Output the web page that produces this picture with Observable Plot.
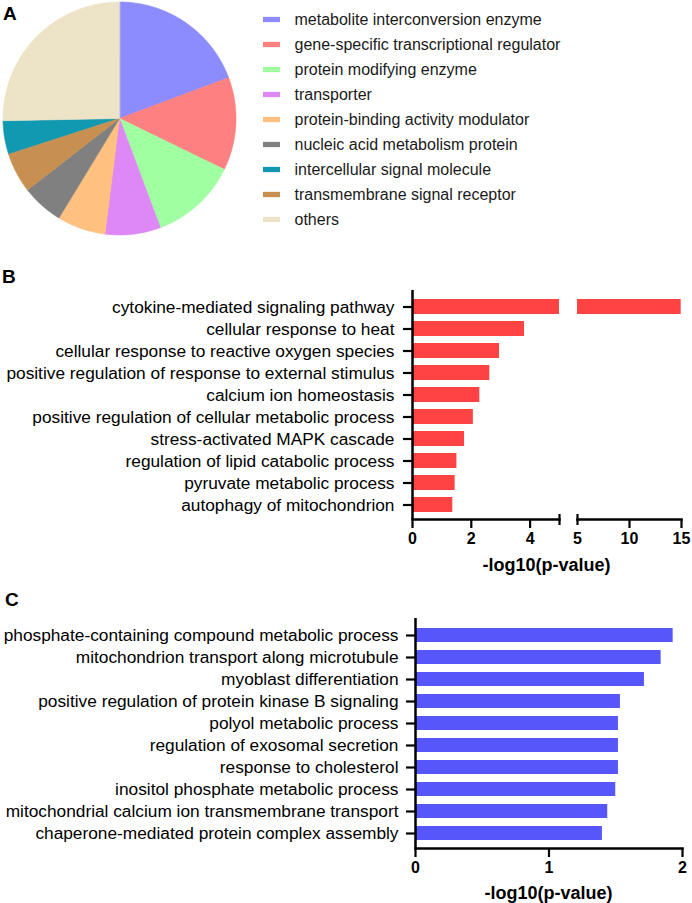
<!DOCTYPE html>
<html><head><meta charset="utf-8">
<script src="https://cdn.jsdelivr.net/npm/d3@7"></script>
<script src="https://cdn.jsdelivr.net/npm/@observablehq/plot@0.6"></script>
<style>
body{margin:0;background:#fff;}
#root{position:relative;width:692px;height:903px;font-family:"Liberation Sans",Arial,sans-serif;color:#000;overflow:hidden;}
.panel{position:absolute;font-weight:bold;font-size:19px;line-height:19px;}
.xt{position:absolute;font-weight:bold;font-size:18px;line-height:18px;transform:translate(-50%,-50%);white-space:nowrap;}
</style></head><body><div id="root"></div>
<script>
// ---- Panel A data (legend order) ----
const pieCategories = ["metabolite interconversion enzyme","gene-specific transcriptional regulator","protein modifying enzyme","transporter","protein-binding activity modulator","nucleic acid metabolism protein","intercellular signal molecule","transmembrane signal receptor","others"];
const pieValues = [19.3, 12.9, 12.1, 7.7, 6.7, 5.8, 4.7, 5.5, 25.3];
const pieColors = ["#8c8cff","#ff8080","#a0ffa0","#dd88f5","#ffc080","#808080","#1099b0","#c89050","#ede4c8"];
// clockwise order of slices in the pie
const pieSliceOrder = ["metabolite interconversion enzyme","gene-specific transcriptional regulator","protein modifying enzyme","transporter","protein-binding activity modulator","nucleic acid metabolism protein","transmembrane signal receptor","intercellular signal molecule","others"];

// ---- Panel B data ----
const bTerms = ["cytokine-mediated signaling pathway","cellular response to heat","cellular response to reactive oxygen species","positive regulation of response to external stimulus","calcium ion homeostasis","positive regulation of cellular metabolic process","stress-activated MAPK cascade","regulation of lipid catabolic process","pyruvate metabolic process","autophagy of mitochondrion"];
const bValues = [14.97, 3.81, 2.96, 2.63, 2.29, 2.07, 1.77, 1.51, 1.45, 1.37];
const bTicksLeft = [0, 2, 4];
const bTicksRight = [10, 15];
const bBreak = 5;
const bMax = 15;

// ---- Panel C data ----
const cTerms = ["phosphate-containing compound metabolic process","mitochondrion transport along microtubule","myoblast differentiation","positive regulation of protein kinase B signaling","polyol metabolic process","regulation of exosomal secretion","response to cholesterol","inositol phosphate metabolic process","mitochondrial calcium ion transmembrane transport","chaperone-mediated protein complex assembly"];
const cValues = [1.93, 1.84, 1.715, 1.535, 1.52, 1.52, 1.52, 1.50, 1.44, 1.40];
const cTicks = [0, 1, 2];

const axisLabel = "-log10(p-value)";
const FONT = '"Liberation Sans", Arial, sans-serif';
const LABEL_SIZE = 17.3;
const root = document.getElementById("root");
const fmt = d => String(d);

function place(el, left, top) {
  el.style.position = "absolute";
  el.style.left = left + "px";
  el.style.top = top + "px";
  root.appendChild(el);
}
function div(cls, text, left, top) {
  const d = document.createElement("div");
  d.className = cls; d.textContent = text;
  d.style.left = left + "px"; d.style.top = top + "px";
  root.appendChild(d);
}

// ---- Panel A: pie ----
const pieData = pieCategories.map((c, i) => ({category: c, value: pieValues[i], color: pieColors[i]}));
const arcs = d3.pie()
  .sort((a, b) => pieSliceOrder.indexOf(a.category) - pieSliceOrder.indexOf(b.category))
  .value(d => d.value)(pieData);
const piePts = arcs.flatMap(a => {
  const n = Math.max(4, Math.ceil((a.endAngle - a.startAngle) / 0.01));
  const pts = [{slice: a.data.category, color: a.data.color, x: 0, y: 0}];
  for (let i = 0; i <= n; i++) {
    const t = a.startAngle + (a.endAngle - a.startAngle) * i / n;
    pts.push({slice: a.data.category, color: a.data.color, x: Math.sin(t), y: Math.cos(t)});
  }
  return pts;
});
const pie = Plot.plot({
  width: 240, height: 240, margin: 0,
  style: {background: "transparent", overflow: "visible"},
  x: {domain: [-1, 1], range: [2.5, 235.5], axis: null},
  y: {domain: [-1, 1], range: [234.5, 1.5], axis: null},
  color: {type: "identity"},
  marks: [
    Plot.line(piePts, {x: "x", y: "y", z: "slice", fill: "color", stroke: "color", strokeWidth: 0.6, curve: "linear-closed"})
  ]
});
place(pie, 0, 0);

const legend = Plot.plot({
  width: 442, height: 240, margin: 0,
  style: {background: "transparent", fontFamily: FONT, overflow: "visible"},
  x: {type: "identity", axis: null},
  y: {type: "band", domain: pieCategories, range: [4.15, 235.85], padding: 0, axis: null},
  color: {type: "identity"},
  marks: [
    Plot.barX(pieData, {x1: 13, x2: 30, y: "category", fill: "color", insetTop: 9.85, insetBottom: 9.85}),
    Plot.text(pieData, {x: 44, y: "category", text: "category", textAnchor: "start", fontSize: 16, fill: "#1a1a1a"})
  ]
});
place(legend, 250, 0);

// ---- Panel B: broken-axis bar chart ----
const bData = bTerms.map((t, i) => ({term: t, value: bValues[i]}));
const bY = {type: "band", domain: bTerms, paddingInner: 0.32, paddingOuter: 0.16, insetTop: 4.4, insetBottom: 2.4, label: null};
const RED = "#ff4343";
const common = {width: 692, height: 330, marginTop: 30, marginBottom: 71,
  style: {background: "transparent", fontFamily: FONT, color: "#000", overflow: "visible"}};

const bLeft = Plot.plot({
  ...common, marginLeft: 412, marginRight: 133,
  x: {domain: [0, bBreak], label: null},
  y: bY,
  marks: [
    Plot.barX(bData, {x: "value", y: "term", fill: RED, clip: true}),
    Plot.axisY({tickSize: 9, tickPadding: 9, fontSize: LABEL_SIZE, strokeWidth: 2.2, label: null}),
    Plot.axisX({ticks: bTicksLeft, tickFormat: fmt, tickSize: 9, tickPadding: 4, fontSize: 16, fontWeight: "bold", strokeWidth: 2.2, label: null}),
    Plot.axisX({ticks: [bBreak], tickSize: 11, dy: -5, tickFormat: () => "", strokeWidth: 2.2, label: null}),
    Plot.ruleX([0], {strokeWidth: 2.5}),
    Plot.frame({anchor: "bottom", strokeWidth: 2.5})
  ]
});
place(bLeft, 0, 260);

const bRight = Plot.plot({
  ...common, marginLeft: 577, marginRight: 11,
  x: {domain: [bBreak, bMax], label: null},
  y: {...bY, axis: null},
  marks: [
    Plot.barX(bData, {x: "value", y: "term", fill: RED, clip: true}),
    Plot.axisX({ticks: bTicksRight, tickFormat: fmt, tickSize: 9, tickPadding: 4, fontSize: 16, fontWeight: "bold", strokeWidth: 2.2, label: null}),
    Plot.axisX({ticks: [bBreak], tickFormat: fmt, tickSize: 0, tickPadding: 13, fontSize: 16, fontWeight: "bold", label: null}),
    Plot.axisX({ticks: [bBreak], tickSize: 11, dy: -5, tickFormat: () => "", strokeWidth: 2.2, label: null}),
    Plot.frame({anchor: "bottom", strokeWidth: 2.5})
  ]
});
place(bRight, 0, 260);

// ---- Panel C ----
const cData = cTerms.map((t, i) => ({term: t, value: cValues[i]}));
const BLUE = "#5656fa";
const cPlot = Plot.plot({
  width: 692, height: 313, marginTop: 28, marginBottom: 55, marginLeft: 415, marginRight: 10,
  style: {background: "transparent", fontFamily: FONT, color: "#000", overflow: "visible"},
  x: {domain: [0, 2], label: null},
  y: {type: "band", domain: cTerms, paddingInner: 0.37, paddingOuter: 0.185, insetTop: 4.9, insetBottom: 2.9, label: null},
  marks: [
    Plot.barX(cData, {x: "value", y: "term", fill: BLUE}),
    Plot.axisY({tickSize: 9, tickPadding: 8, fontSize: LABEL_SIZE, strokeWidth: 2.2, label: null}),
    Plot.axisX({ticks: cTicks, tickFormat: fmt, tickSize: 9, tickPadding: 4, fontSize: 16, fontWeight: "bold", strokeWidth: 2.2, label: null}),
    Plot.ruleX([0], {strokeWidth: 2.5}),
    Plot.frame({anchor: "bottom", strokeWidth: 2.5})
  ]
});
place(cPlot, 0, 590);

// ---- texts ----
div("panel", "A", 3, 3.5);
div("panel", "B", 2, 266.5);
div("panel", "C", 5, 589.5);
div("xt", axisLabel, 546.5, 565);
div("xt", axisLabel, 548.5, 893);
</script></body></html>
